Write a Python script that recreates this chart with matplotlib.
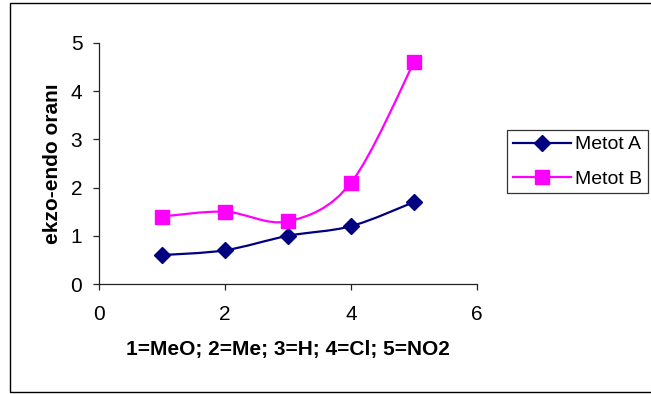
import matplotlib
matplotlib.use("Agg")
import matplotlib.pyplot as plt
from matplotlib.path import Path
from matplotlib.patches import PathPatch, Rectangle
from matplotlib.lines import Line2D

plt.rcParams['font.family'] = ['Liberation Sans', 'DejaVu Sans']

x_vals = [1, 2, 3, 4, 5]
metot_a = [0.6, 0.7, 1.0, 1.2, 1.7]
metot_b = [1.4, 1.5, 1.3, 2.1, 4.6]
series_names = ["Metot A", "Metot B"]
x_label = "1=MeO; 2=Me; 3=H; 4=Cl; 5=NO2"
y_label = "ekzo-endo oranı"
x_ticks = [0, 2, 4, 6]
y_ticks = [0, 1, 2, 3, 4, 5]

col_a = "#000080"
col_b = "#FF00FF"

fig = plt.figure(figsize=(6.51, 3.94), dpi=100)
ax = fig.add_axes([99/651, 1-284/394, (477-99)/651, (284-43)/394])

# figure border (Excel chart area)
fig.patches.append(Rectangle((10/651, 1-392/394), 1.2, (392-3)/394,
                             transform=fig.transFigure, fill=False,
                             edgecolor="black", linewidth=1.0, clip_on=False))


def smooth_path(xs, ys):
    pts = list(zip(xs, ys))
    verts = [pts[0]]
    codes = [Path.MOVETO]
    n = len(pts)
    for i in range(n - 1):
        p0 = pts[i - 1] if i > 0 else pts[i]
        p1 = pts[i]
        p2 = pts[i + 1]
        p3 = pts[i + 2] if i + 2 < n else pts[i + 1]
        c1 = (p1[0] + (p2[0] - p0[0]) / 6.0, p1[1] + (p2[1] - p0[1]) / 6.0)
        c2 = (p2[0] - (p3[0] - p1[0]) / 6.0, p2[1] - (p3[1] - p1[1]) / 6.0)
        verts += [c1, c2, p2]
        codes += [Path.CURVE4] * 3
    return Path(verts, codes)


for ys, col, mk, ms in [(metot_a, col_a, "D", 8), (metot_b, col_b, "s", 10)]:
    ax.add_patch(PathPatch(smooth_path(x_vals, ys), facecolor="none",
                           edgecolor=col, linewidth=1.6, zorder=2))
    ax.plot(x_vals, ys, linestyle="none", marker=mk, markersize=ms,
            color=col, markeredgecolor=col, zorder=3)

ax.set_xlim(0, 6)
ax.set_ylim(0, 5)
ax.set_xticks(x_ticks)
ax.set_yticks(y_ticks)
for s in ["top", "right"]:
    ax.spines[s].set_visible(False)
for s in ["left", "bottom"]:
    ax.spines[s].set_linewidth(0.9)
    ax.spines[s].set_color("#222222")
ax.tick_params(axis="both", direction="out", length=4, width=0.9,
               color="#222222", labelsize=15)
ax.tick_params(axis="x", pad=11)
ax.tick_params(axis="y", pad=8)

ax.set_xlabel(x_label, fontsize=15, fontweight="bold", labelpad=12)
ax.set_ylabel(y_label, fontsize=15, fontweight="bold", labelpad=6)

handles = [Line2D([], [], color=col_a, marker="D", markersize=8, linewidth=1.6),
           Line2D([], [], color=col_b, marker="s", markersize=10, linewidth=1.6)]
leg = fig.legend(handles, series_names, loc="upper left",
                 bbox_to_anchor=(507/651, 1-130/394), fontsize=14,
                 frameon=True, fancybox=False, edgecolor="black",
                 handlelength=3.0, borderpad=0.3, labelspacing=0.85,
                 handletextpad=0.2, borderaxespad=0)
leg.get_frame().set_linewidth(0.9)

fig.savefig("out.png", dpi=100)
